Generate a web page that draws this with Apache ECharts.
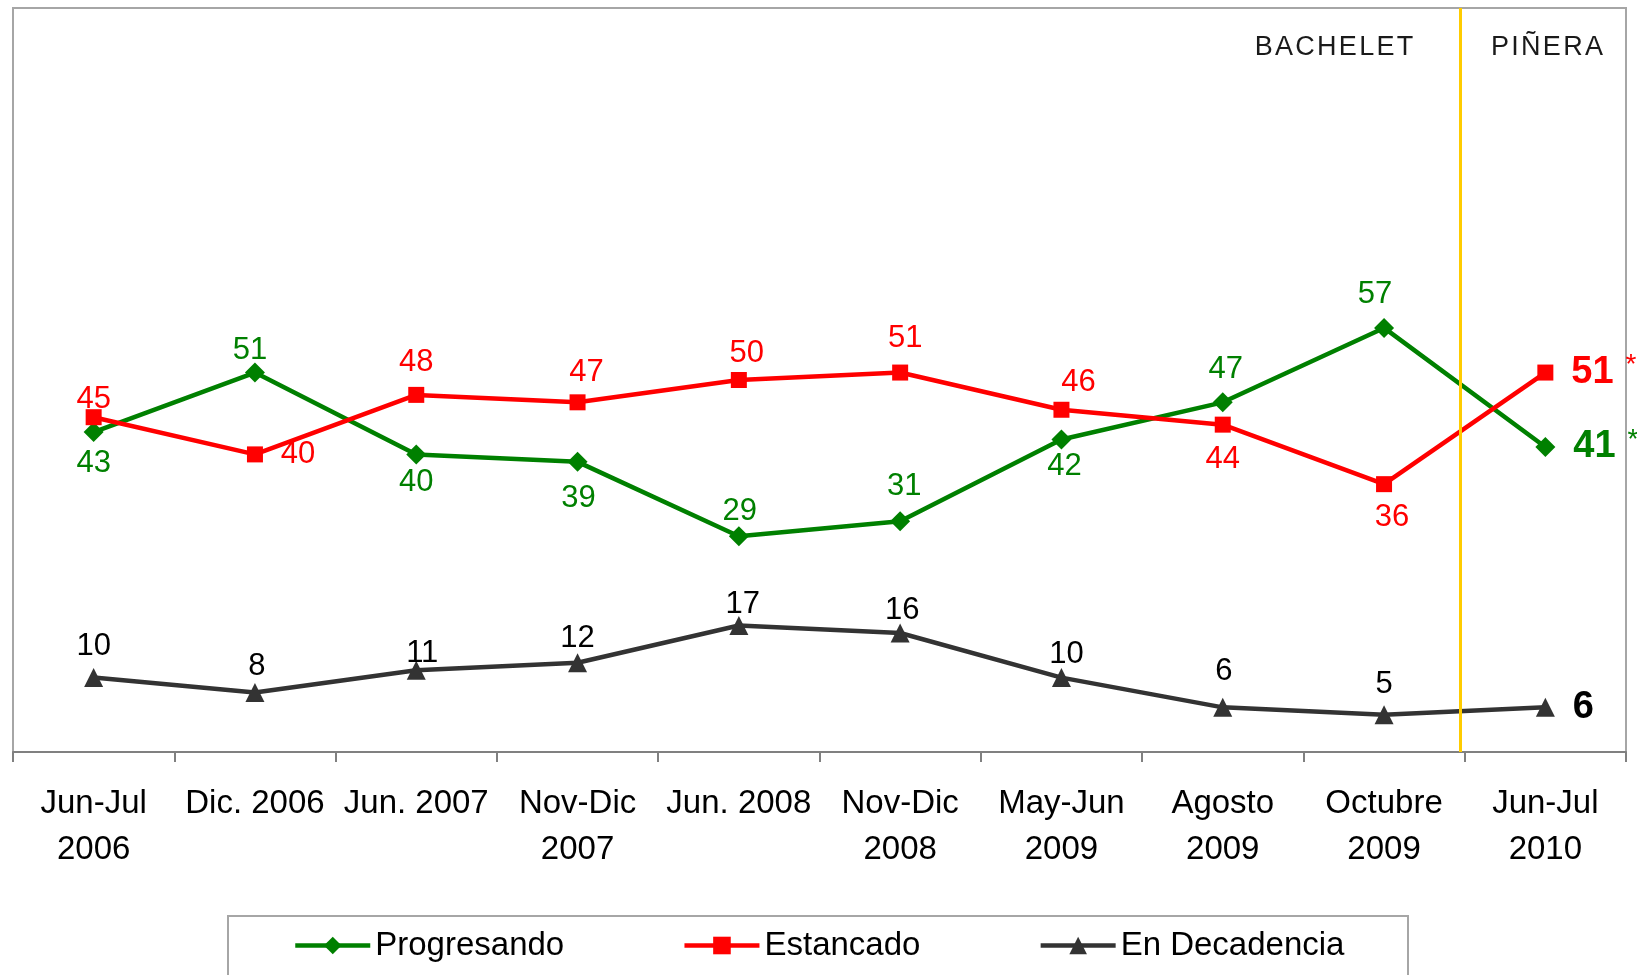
<!DOCTYPE html>
<html>
<head>
<meta charset="utf-8">
<script src="https://cdn.jsdelivr.net/npm/echarts@6/dist/echarts.min.js"></script>
<style>
  html, body { margin: 0; padding: 0; background: #fff; }
  #chart { width: 1637px; height: 975px; }
</style>
</head>
<body>
<div id="chart"></div>
<script>
// datos
var categories = ['Jun-Jul\n2006', 'Dic. 2006', 'Jun. 2007', 'Nov-Dic\n2007', 'Jun. 2008',
    'Nov-Dic\n2008', 'May-Jun\n2009', 'Agosto\n2009', 'Octubre\n2009', 'Jun-Jul\n2010'];
var progresando = [43, 51, 40, 39, 29, 31, 42, 47, 57, 41];
var estancado = [45, 40, 48, 47, 50, 51, 46, 44, 36, 51];
var decadencia = [10, 8, 11, 12, 17, 16, 10, 6, 5, 6];
var periodos = ['BACHELET', 'PIÑERA'];
var cambioGobierno = 8.97;   // límite entre Octubre 2009 y Jun-Jul 2010 (en bandas)

// desplazamiento de etiquetas (estilo, no datos)
var offProg = [[0, 31], [-5, -22], [0, 28], [1, 37], [1, -25], [4, -35], [3, 27], [3, -33], [-9, -33]];
var offEst = [[0, -18], [43, 0], [0, -32], [9, -30], [8, -27], [5, -34], [17, -27], [0, 35], [8, 33]];
var offDec = [[0, -31], [2, -26], [6, -17], [0, -24], [4, -21], [2, -23], [5, -23], [1, -36], [0, -30]];

var FONT = 'Liberation Sans, Arial, sans-serif';

function spaced(s) {   // separación de letras
    return s.split('').join('\u200A');
}

function buildData(values, offsets, color, star) {
    return values.map(function (v, i) {
        if (i === values.length - 1) {
            return {
                value: v,
                label: {
                    position: 'right',
                    distance: 18,
                    offset: [0, 0],
                    formatter: star ? '{b|{c}}{s|*}' : '{b|{c}}',
                    rich: {
                        b: { fontSize: 38, fontWeight: 'bold', color: color, fontFamily: FONT },
                        s: { fontSize: 28, color: color, fontFamily: FONT, padding: [0, 0, 14, 12] }
                    }
                }
            };
        }
        return { value: v, label: { position: 'inside', offset: offsets[i] } };
    });
}

var myChart = echarts.init(document.getElementById('chart'));
var option = {
    animation: false,
    backgroundColor: '#fff',
    grid: {
        left: 13, right: 11, top: 8, bottom: 223,
        show: true, borderColor: '#A6A6A6', borderWidth: 2
    },
    legend: {
        data: ['Progresando', 'Estancado', 'En Decadencia'],
        left: 288,
        top: 924,
        itemWidth: 75,
        itemHeight: 22,
        itemGap: 118,
        lineStyle: { width: 4.5 },
        textStyle: { fontSize: 33, color: '#000', fontFamily: FONT }
    },
    xAxis: [
        {
            type: 'category',
            data: categories,
            boundaryGap: true,
            axisLine: { lineStyle: { color: '#808080', width: 2 } },
            axisTick: { show: true, length: 10, interval: 0, lineStyle: { color: '#808080', width: 2 } },
            axisLabel: { interval: 0, fontSize: 33, lineHeight: 46, margin: 29, color: '#000', fontFamily: FONT },
            splitLine: { show: false }
        },
        {
            type: 'value', min: 0, max: categories.length, show: false,
            splitLine: { show: false }
        }
    ],
    yAxis: {
        type: 'value', min: 0, max: 100, show: false,
        splitLine: { show: false }
    },
    graphic: [
        {
            type: 'text',
            style: { text: spaced(periodos[0]), x: 1334, y: 48, fontSize: 27, fill: '#1a1a1a', fontFamily: FONT, align: 'center', verticalAlign: 'middle' }
        },
        {
            type: 'text',
            style: { text: spaced(periodos[1]), x: 1547, y: 48, fontSize: 27, fill: '#1a1a1a', fontFamily: FONT, align: 'center', verticalAlign: 'middle' }
        },
        {
            type: 'rect',
            shape: { x: 228, y: 916, width: 1180, height: 100 },
            style: { fill: 'none', stroke: '#A6A6A6', lineWidth: 2 }
        }
    ],
    series: [
        {
            name: 'Progresando',
            type: 'line',
            symbol: 'diamond',
            symbolSize: 20,
            lineStyle: { color: '#008000', width: 4.5 },
            itemStyle: { color: '#008000' },
            label: { show: true, fontSize: 31, color: '#008000', fontFamily: FONT },
            data: buildData(progresando, offProg, '#008000', true)
        },
        {
            name: 'Estancado',
            type: 'line',
            symbol: 'rect',
            symbolSize: 16,
            lineStyle: { color: '#FF0000', width: 4.5 },
            itemStyle: { color: '#FF0000' },
            label: { show: true, fontSize: 31, color: '#FF0000', fontFamily: FONT },
            data: buildData(estancado, offEst, '#FF0000', true)
        },
        {
            name: 'En Decadencia',
            type: 'line',
            symbol: 'triangle',
            symbolSize: 19,
            lineStyle: { color: '#333333', width: 4.5 },
            itemStyle: { color: '#333333' },
            label: { show: true, fontSize: 31, color: '#000', fontFamily: FONT },
            data: buildData(decadencia, offDec, '#000', false)
        },
        {
            name: 'cambio',
            type: 'line',
            xAxisIndex: 1,
            data: [],
            markLine: {
                silent: true,
                symbol: 'none',
                label: { show: false },
                lineStyle: { color: '#FFCC00', width: 3, type: 'solid' },
                data: [{ xAxis: cambioGobierno }]
            }
        }
    ]
};
myChart.setOption(option);
window.addEventListener('resize', function () {
    myChart.resize();
});
</script>
</body>
</html>
